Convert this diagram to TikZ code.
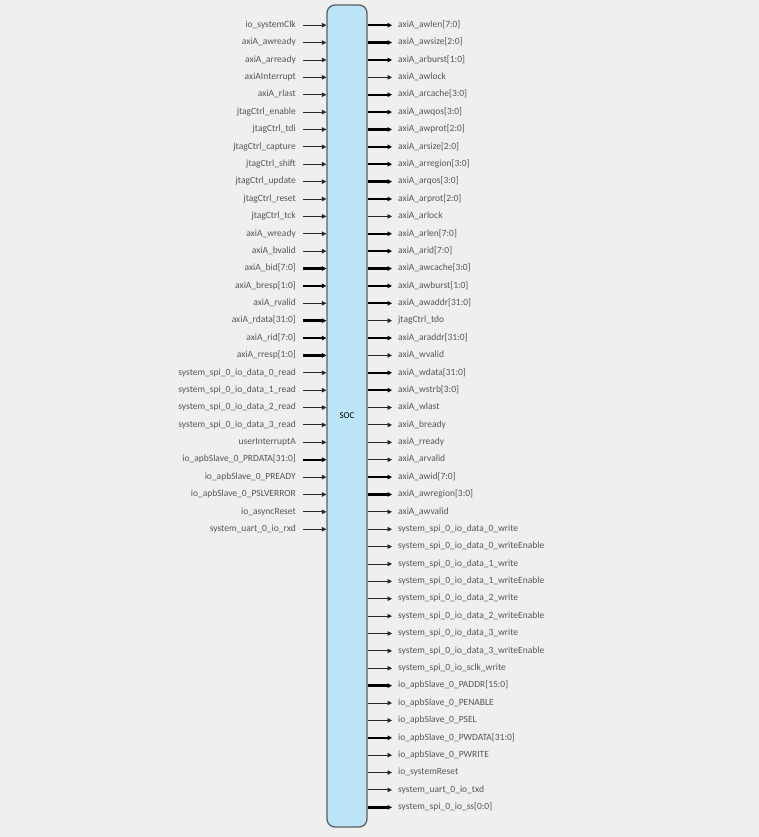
\documentclass[tikz,border=0pt]{standalone}
\usepackage{fontspec}
\setmainfont{Carlito}
\usepackage{tikz}
\usetikzlibrary{positioning, arrows.meta}

\definecolor{bggray}{HTML}{EFEFEF}
\definecolor{socfill}{HTML}{BCE4F7}
\definecolor{socedge}{HTML}{5E5E5E}
\definecolor{pintext}{HTML}{555555}

\begin{document}
\begin{tikzpicture}[x=1pt, y=-1pt,
    pin/.style={inner sep=0pt, text height=6.5pt, text depth=2pt,
        font=\fontsize{9.5}{10}\selectfont, text=pintext},
    sig/.style={line width=0.9pt, draw=black!85,
        -{Triangle[length=4.5pt, width=4.5pt]}},
    bus/.style={line width=2.4pt, draw=black,
        -{Triangle[length=4.5pt, width=4.5pt]}}]
    \useasboundingbox[fill=bggray] (0,0) rectangle (759,837);

    % SoC block
    \node (soc) [draw=socedge, fill=socfill, line width=1.3pt, rounded corners=8pt,
        minimum width=40pt, minimum height=822pt, inner sep=0pt,
        font=\fontsize{9}{10}\selectfont] at (347,416) {SOC};

    % Inputs
    \foreach \lbl/\kind [count=\i] in {
        io\_systemClk/sig, axiA\_awready/sig, axiA\_arready/sig, axiAInterrupt/sig,
        axiA\_rlast/sig, jtagCtrl\_enable/sig, jtagCtrl\_tdi/sig, jtagCtrl\_capture/sig,
        jtagCtrl\_shift/sig, jtagCtrl\_update/sig, jtagCtrl\_reset/sig, jtagCtrl\_tck/sig,
        axiA\_wready/sig, axiA\_bvalid/sig, axiA\_bid[7:0]/bus, axiA\_bresp[1:0]/bus,
        axiA\_rvalid/sig, axiA\_rdata[31:0]/bus, axiA\_rid[7:0]/bus, axiA\_rresp[1:0]/bus,
        system\_spi\_0\_io\_data\_0\_read/sig, system\_spi\_0\_io\_data\_1\_read/sig,
        system\_spi\_0\_io\_data\_2\_read/sig, system\_spi\_0\_io\_data\_3\_read/sig,
        userInterruptA/sig, io\_apbSlave\_0\_PRDATA[31:0]/bus,
        io\_apbSlave\_0\_PREADY/sig, io\_apbSlave\_0\_PSLVERROR/sig,
        io\_asyncReset/sig, system\_uart\_0\_io\_rxd/sig} {
        \node (in\i) [pin, anchor=east] at (296, {25.2+(\i-1)*17.38}) {\lbl};
        \draw[\kind] ([xshift=7pt]in\i.east) -- (soc.west |- in\i.east);
    }

    % Outputs
    \foreach \lbl/\kind [count=\i] in {
        axiA\_awlen[7:0]/bus, axiA\_awsize[2:0]/bus, axiA\_arburst[1:0]/bus,
        axiA\_awlock/sig, axiA\_arcache[3:0]/bus, axiA\_awqos[3:0]/bus,
        axiA\_awprot[2:0]/bus, axiA\_arsize[2:0]/bus, axiA\_arregion[3:0]/bus,
        axiA\_arqos[3:0]/bus, axiA\_arprot[2:0]/bus, axiA\_arlock/sig,
        axiA\_arlen[7:0]/bus, axiA\_arid[7:0]/bus, axiA\_awcache[3:0]/bus,
        axiA\_awburst[1:0]/bus, axiA\_awaddr[31:0]/bus, jtagCtrl\_tdo/sig,
        axiA\_araddr[31:0]/bus, axiA\_wvalid/sig, axiA\_wdata[31:0]/bus,
        axiA\_wstrb[3:0]/bus, axiA\_wlast/sig, axiA\_bready/sig, axiA\_rready/sig,
        axiA\_arvalid/sig, axiA\_awid[7:0]/bus, axiA\_awregion[3:0]/bus,
        axiA\_awvalid/sig,
        system\_spi\_0\_io\_data\_0\_write/sig, system\_spi\_0\_io\_data\_0\_writeEnable/sig,
        system\_spi\_0\_io\_data\_1\_write/sig, system\_spi\_0\_io\_data\_1\_writeEnable/sig,
        system\_spi\_0\_io\_data\_2\_write/sig, system\_spi\_0\_io\_data\_2\_writeEnable/sig,
        system\_spi\_0\_io\_data\_3\_write/sig, system\_spi\_0\_io\_data\_3\_writeEnable/sig,
        system\_spi\_0\_io\_sclk\_write/sig, io\_apbSlave\_0\_PADDR[15:0]/bus,
        io\_apbSlave\_0\_PENABLE/sig, io\_apbSlave\_0\_PSEL/sig,
        io\_apbSlave\_0\_PWDATA[31:0]/bus, io\_apbSlave\_0\_PWRITE/sig,
        io\_systemReset/sig, system\_uart\_0\_io\_txd/sig,
        system\_spi\_0\_io\_ss[0:0]/bus} {
        \node (out\i) [pin, anchor=west] at (398, {25.2+(\i-1)*17.38}) {\lbl};
        \draw[\kind] (soc.east |- out\i.west) -- ([xshift=-6pt]out\i.west);
    }
\end{tikzpicture}
\end{document}
